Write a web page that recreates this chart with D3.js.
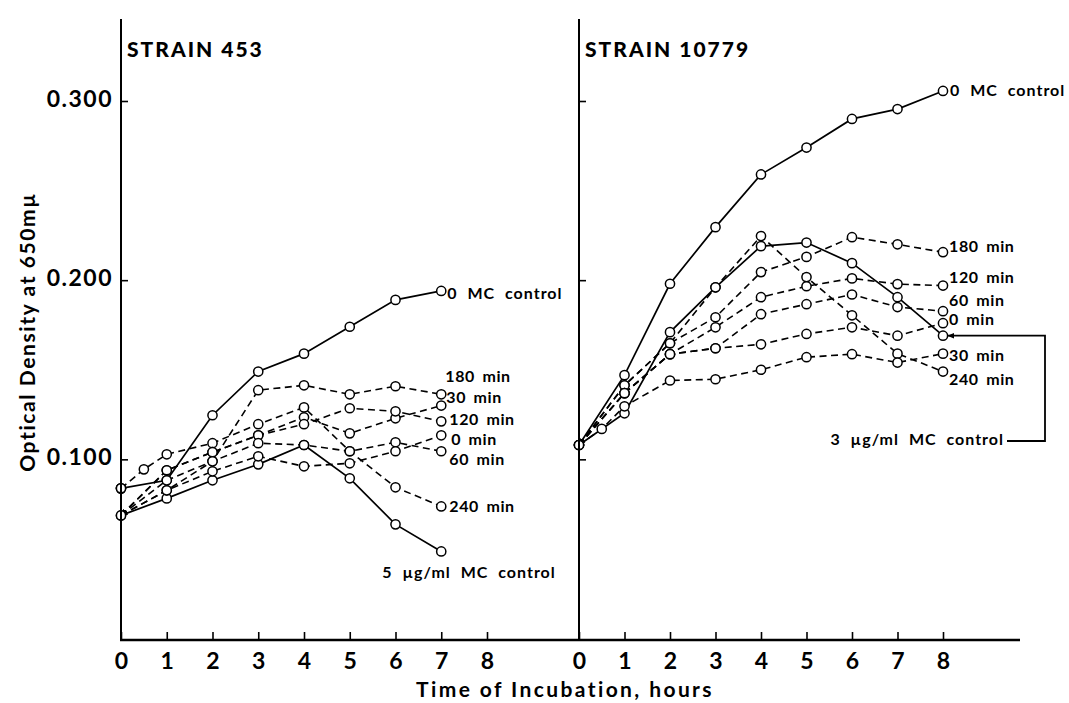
<!DOCTYPE html>
<html><head><meta charset="utf-8">
<script src="https://cdn.jsdelivr.net/npm/d3@7"></script>
<style>
body{margin:0;background:#fff;}
svg{display:block;}
text{font-family:Lato,"DejaVu Sans",sans-serif;fill:#000;}
</style></head>
<body><svg id="c" width="1069" height="703"></svg>
<script>
// ---- data ----
const hoursLeft = [0,1,2,3,4,5,6,7];
const hoursLeftHalf = [0,0.5,1,2,3,4,5,6,7];
const hoursRight = [0,1,2,3,4,5,6,7,8];
const hoursRightHalf = [0,0.5,1,2,3,4,5,6,7,8];
const xTicks = [0,1,2,3,4,5,6,7,8];
const yTicks = [0.1,0.2,0.3];
const yTickLabels = ["0.100","0.200","0.300"];

// Strain 453
const l_control0 = [0.0838,0.0883,0.1246,0.149,0.159,0.174,0.189,0.194];
const l_control5 = [0.0687,0.0782,0.0883,0.0972,0.108,0.0894,0.0637,0.0486];
const l_240 = [0.0838,0.0944,0.1028,0.109,0.1196,0.129,0.1045,0.0844,0.0737];
const l_180 = [0.0687,0.0883,0.0989,0.1386,0.1413,0.1363,0.1408,0.1363];
const l_30  = [0.0687,0.0939,0.104,0.1134,0.1235,0.1145,0.1229,0.130];
const l_120 = [0.0687,0.0939,0.104,0.1134,0.1196,0.1285,0.1268,0.1212];
const l_60  = [0.0687,0.0827,0.0989,0.109,0.108,0.1045,0.1095,0.1045];
const l_0   = [0.0687,0.0827,0.0933,0.1017,0.0961,0.0978,0.1045,0.1134];

// Strain 10779
const r_control0 = [0.108,0.147,0.198,0.2296,0.259,0.274,0.290,0.2955,0.3056];
const r_control3 = [0.108,0.1257,0.171,0.196,0.219,0.221,0.2095,0.1905,0.169];
const r_240 = [0.108,0.1413,0.1648,0.196,0.2246,0.2017,0.1804,0.159,0.149];
const r_180 = [0.108,0.1413,0.1648,0.1793,0.2045,0.213,0.224,0.220,0.2156];
const r_120 = [0.108,0.1369,0.1587,0.1737,0.1905,0.1966,0.201,0.1978,0.197];
const r_60  = [0.108,0.1369,0.1587,0.162,0.181,0.1866,0.192,0.185,0.1827];
const r_0   = [0.108,0.1369,0.1587,0.162,0.1642,0.170,0.1737,0.169,0.176];
const r_30  = [0.108,0.117,0.1296,0.144,0.1447,0.150,0.157,0.1587,0.154,0.159];

const leftLabels = [
  {text:"0 MC control", series:"control0", dy:4, dx:6, wide:true},
  {text:"180 min", series:"180", dy:-16, dx:4},
  {text:"30 min", series:"30", dy:-7, dx:5},
  {text:"120 min", series:"120", dy:0, dx:8},
  {text:"0 min", series:"0", dy:6, dx:10},
  {text:"60 min", series:"60", dy:10, dx:8},
  {text:"240 min", series:"240", dy:1, dx:8}
];
const rightLabels = [
  {text:"0 MC control", series:"control0", dy:1, dx:7, wide:true},
  {text:"180 min", series:"180", dy:-4, dx:6},
  {text:"120 min", series:"120", dy:-7, dx:6},
  {text:"60 min", series:"60", dy:-9, dx:6},
  {text:"0 min", series:"0", dy:-2, dx:6},
  {text:"30 min", series:"30", dy:3, dx:6},
  {text:"240 min", series:"240", dy:9, dx:6}
];

// ---- drawing ----
const svg = d3.select("#c");
const y = d3.scaleLinear().domain([0,0.3]).range([638.5,101]);
const xL = d3.scaleLinear().domain([0,8]).range([121,487]);
const xR = d3.scaleLinear().domain([0,8]).range([579,943]);
const axisTop = 19, baseY = 640;

const defs = svg.append("defs");
defs.append("marker").attr("id","arr").attr("viewBox","0 0 10 10")
  .attr("refX",9).attr("refY",5).attr("markerWidth",7).attr("markerHeight",7)
  .attr("markerUnits","userSpaceOnUse").attr("orient","auto-start-reverse")
  .append("path").attr("d","M0,1 L10,5 L0,9 z").attr("fill","#000");

function labelStyle(sel, wide){
  return sel.style("font-size","16px").style("font-weight","700")
    .style("letter-spacing", wide?"1px":"0.6px").style("word-spacing", wide?"5px":"3px");
}

function drawPanel(x, seriesList, labels){
  const g = svg.append("g");
  const line = d3.line().x(d=>x(d[0])).y(d=>y(d[1]));
  seriesList.forEach(s=>{
    const pts = s.t.map((t,i)=>[t,s.v[i]]);
    g.append("path").datum(pts).attr("d",line)
      .attr("fill","none").attr("stroke","#000")
      .attr("stroke-width", s.solid?1.7:1.6)
      .attr("stroke-dasharray", s.solid?null:"7,4.5")
      .attr("marker-start", s.arrow? "url(#arr)":null);
  });
  seriesList.forEach(s=>{
    const pts = s.t.map((t,i)=>[t,s.v[i]]);
    g.selectAll(null).data(pts.slice(s.arrow?1:0)).enter().append("circle")
      .attr("cx",d=>x(d[0])).attr("cy",d=>y(d[1])).attr("r",4.6)
      .attr("fill","#fff").attr("stroke","#000").attr("stroke-width",1.5);
  });
  const starts = {};
  seriesList.forEach(s=>{ starts[s.v[0]] = true; });
  Object.keys(starts).forEach(v=>{
    g.append("circle").attr("cx",x(0)).attr("cy",y(+v)).attr("r",4.6)
      .attr("fill","#fff").attr("stroke","#000").attr("stroke-width",1.5);
  });
  labels.forEach(l=>{
    const s = seriesList.find(q=>q.name===l.series);
    const n = s.t.length-1;
    labelStyle(g.append("text").attr("x",x(s.t[n])+l.dx).attr("y",y(s.v[n])+l.dy)
      .attr("dominant-baseline","middle"), l.wide).text(l.text);
  });
  svg.append("line").attr("x1",x(0)).attr("x2",x(0)).attr("y1",axisTop).attr("y2",baseY)
    .attr("stroke","#000").attr("stroke-width",2);
  const ya = svg.append("g").attr("transform",`translate(${x(0)},0)`)
    .call(d3.axisRight(y).tickValues(yTicks).tickSize(7).tickFormat(""));
  ya.select(".domain").remove();
  ya.selectAll("line").attr("stroke-width",1.6);
  const xa = svg.append("g").attr("transform",`translate(0,${baseY})`)
    .call(d3.axisBottom(x).tickValues(xTicks).tickSizeInner(-8).tickSizeOuter(0).tickPadding(13).tickFormat(d3.format("d")));
  xa.select(".domain").remove();
  xa.selectAll("line").attr("stroke-width",1.6);
  xa.selectAll("text").style("font-size","23px").style("font-weight","700")
    .style("font-family","Lato,'DejaVu Sans',sans-serif");
  return g;
}

const leftSeries = [
  {name:"control0", t:hoursLeft, v:l_control0, solid:true},
  {name:"control5", t:hoursLeft, v:l_control5, solid:true},
  {name:"240", t:hoursLeftHalf, v:l_240},
  {name:"180", t:hoursLeft, v:l_180, arrow:true},
  {name:"30", t:hoursLeft, v:l_30, arrow:true},
  {name:"120", t:hoursLeft, v:l_120, arrow:true},
  {name:"60", t:hoursLeft, v:l_60, arrow:true},
  {name:"0", t:hoursLeft, v:l_0, arrow:true}
];
const rightSeries = [
  {name:"control0", t:hoursRight, v:r_control0, solid:true},
  {name:"control3", t:hoursRight, v:r_control3, solid:true},
  {name:"240", t:hoursRight, v:r_240, arrow:true},
  {name:"180", t:hoursRight, v:r_180, arrow:true},
  {name:"120", t:hoursRight, v:r_120, arrow:true},
  {name:"60", t:hoursRight, v:r_60, arrow:true},
  {name:"0", t:hoursRight, v:r_0, arrow:true},
  {name:"30", t:hoursRightHalf, v:r_30}
];

svg.append("line").attr("x1",120).attr("x2",1020).attr("y1",baseY).attr("y2",baseY)
  .attr("stroke","#000").attr("stroke-width",2.4);

drawPanel(xL, leftSeries, leftLabels);
drawPanel(xR, rightSeries, rightLabels);

const l5n = l_control5.length-1;
labelStyle(svg.append("text").attr("x",xL(hoursLeft[l5n])-59).attr("y",y(l_control5[l5n])+22)
  .attr("dominant-baseline","middle"), true).text("5 µg/ml MC control");

const r3n = r_control3.length-1;
const ex = xR(hoursRight[r3n]), ey = y(r_control3[r3n]);
const ly = 441;
labelStyle(svg.append("text").attr("x",1004).attr("y",ly).attr("text-anchor","end")
  .attr("dominant-baseline","middle"), true).text("3 µg/ml MC control");
svg.append("path").attr("d",`M1007,${ly} H1045 V${ey} H${ex+5}`)
  .attr("fill","none").attr("stroke","#000").attr("stroke-width",1.8)
  .attr("marker-end","url(#arr)");

svg.selectAll(null).data(yTicks).enter().append("text")
  .attr("x",113).attr("y",d=>y(d)).attr("text-anchor","end").attr("dominant-baseline","middle")
  .style("font-size","23px").style("font-weight","700").style("letter-spacing","1.5px")
  .text((d,i)=>yTickLabels[i]);

svg.append("text").attr("x",127).attr("y",57).style("font-size","21px").style("font-weight","900")
  .style("letter-spacing","2px").text("STRAIN 453");
svg.append("text").attr("x",585).attr("y",57).style("font-size","21px").style("font-weight","900")
  .style("letter-spacing","2px").text("STRAIN 10779");

svg.append("text").attr("transform","translate(35,332) rotate(-90)").attr("text-anchor","middle")
  .style("font-size","21px").style("font-weight","700").style("letter-spacing","1.6px")
  .text("Optical Density at 650mµ");
svg.append("text").attr("x",565).attr("y",697).attr("text-anchor","middle")
  .style("font-size","21px").style("font-weight","700").style("letter-spacing","2.4px")
  .text("Time of Incubation, hours");
</script></body></html>
